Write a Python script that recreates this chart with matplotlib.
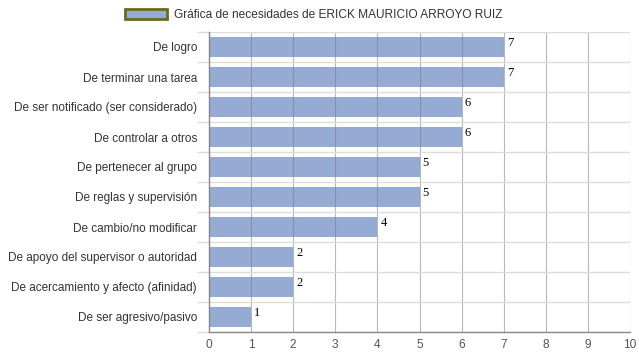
import matplotlib
matplotlib.use("Agg")
import matplotlib.pyplot as plt
import numpy as np
from matplotlib.patches import Patch

categories = ["De logro", "De terminar una tarea", "De ser notificado (ser considerado)",
              "De controlar a otros", "De pertenecer al grupo", "De reglas y supervisión",
              "De cambio/no modificar", "De apoyo del supervisor o autoridad",
              "De acercamiento y afecto (afinidad)", "De ser agresivo/pasivo"]
values = [7, 7, 6, 6, 5, 5, 4, 2, 2, 1]
series_name = "Gráfica de necesidades de ERICK MAURICIO ARROYO RUIZ"
xticks = list(range(0, 11))

plt.rcParams['font.family'] = ['Liberation Sans', 'DejaVu Sans']
fig = plt.figure(figsize=(6.39, 3.6), dpi=100)
ax = fig.add_axes([209/639, 1-332/360, (630-209)/639, 300/360])

y = np.arange(len(categories))
ax.barh(y, values, height=0.67, color="#95abd4", zorder=2)
ax.set_ylim(len(categories)-0.5, -0.5)
ax.set_xlim(0, 10)
ax.set_xticks(xticks)
ax.set_xticklabels([str(t) for t in xticks], fontsize=8.6, color="#555555")
ax.set_yticks(y)
ax.set_yticklabels(categories, fontsize=8.5, color="#333333")
ax.tick_params(axis='y', length=0, pad=8.6)
ax.tick_params(axis='x', length=0, pad=5)
ax.set_yticks(np.arange(-0.5, len(categories)), minor=True)
ax.tick_params(axis='y', which='minor', length=8.6, color="#dddddd", width=1)
ax.grid(axis='y', which='minor', color="#dddddd", lw=1, zorder=1)
ax.grid(axis='x', which='major', color="#7f7f7f", lw=0.8, alpha=0.55, zorder=3)
ax.set_axisbelow(False)
for s in ['top', 'right']:
    ax.spines[s].set_visible(False)
for s in ['left', 'bottom']:
    ax.spines[s].set_color("#888888")
    ax.spines[s].set_linewidth(1)
    ax.spines[s].set_zorder(4)

for yi, v in zip(y, values):
    ax.text(v + 0.07, yi - 0.33, str(v), fontsize=9, family='Liberation Serif',
            va='top', ha='left', color="#000000", zorder=5)

handle = Patch(facecolor="#95abd4", edgecolor="#6b6b1e", linewidth=2)
fig.legend([handle], [series_name], loc='center', bbox_to_anchor=(0.4906, 1-15/360),
           frameon=False, fontsize=8.6, handlelength=3.5, handleheight=1.0,
           labelcolor="#333333", handletextpad=0.6)

fig.savefig("out.png", dpi=100)
